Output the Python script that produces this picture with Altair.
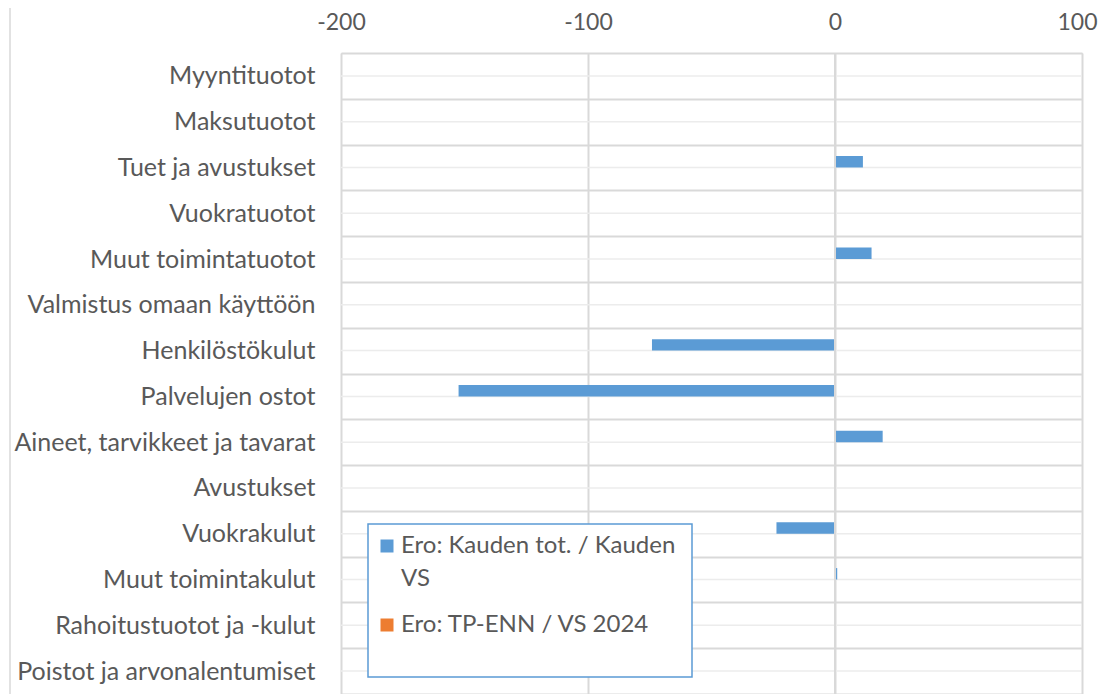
import altair as alt
import pandas as pd

categories = ["Myyntituotot", "Maksutuotot", "Tuet ja avustukset", "Vuokratuotot",
              "Muut toimintatuotot", "Valmistus omaan käyttöön", "Henkilöstökulut",
              "Palvelujen ostot", "Aineet, tarvikkeet ja tavarat", "Avustukset",
              "Vuokrakulut", "Muut toimintakulut", "Rahoitustuotot ja -kulut",
              "Poistot ja arvonalentumiset"]
series = ["Ero: Kauden tot. / Kauden VS", "Ero: TP-ENN / VS 2024"]
blue_values = [0, 0, 11.3, 0, 14.8, 0, -74.1, -152.4, 19.3, 0, -23.7, 0.9, 0, 0]
orange_values = [0, 0, 0, 0, 0, 0, 0, 0, 0, 0, 0, 0, 0, 0]
x_ticks = [-200, -100, 0, 100]
colors = ["#5b9bd5", "#ed7d31"]

rows = []
for c, b, o in zip(categories, blue_values, orange_values):
    rows.append({"cat": c, "series": series[0], "value": b})
    rows.append({"cat": c, "series": series[1], "value": o})
df = pd.DataFrame(rows)
cat_df = pd.DataFrame({"cat": categories})
zero_df = pd.DataFrame({"x": [0]})

W, H = 741, 641
FONT = "Lato"
GRAY = "#595959"

y_enc = alt.Y("cat:N", sort=categories,
              scale=alt.Scale(domain=categories, paddingInner=0, paddingOuter=0),
              axis=alt.Axis(title=None, labelFontSize=25, labelColor=GRAY, labelFont=FONT,
                            ticks=False, domain=False, grid=True, gridColor="#d9d9d9",
                            gridWidth=2, tickBand="extent", labelPadding=26, labelLimit=400))

x_scale = alt.Scale(domain=[-200, 100], nice=False, zero=False)

center_lines = alt.Chart(cat_df).mark_rule(color="#ececec", strokeWidth=1.5).encode(
    y=alt.Y("cat:N", sort=categories, scale=alt.Scale(domain=categories, paddingInner=0, paddingOuter=0))
)

legend_box = alt.Chart(zero_df).mark_rect(fill="white", stroke="#5b9bd5", strokeWidth=1.5).encode(
    x=alt.value(27), x2=alt.value(351), y=alt.value(471), y2=alt.value(624)
)

bars = alt.Chart(df).mark_bar().encode(
    x=alt.X("value:Q", scale=x_scale,
            axis=alt.Axis(orient="top", values=x_ticks, title=None, labelFontSize=23,
                          labelColor=GRAY, labelFont=FONT, ticks=False, domain=False,
                          grid=True, gridColor="#d9d9d9", gridWidth=2, labelPadding=19,
                          labelFlush=False,
                          labelOffset={"condition": {"test": "datum.value == 100", "value": -5}, "value": 0},
                          labelExpr="toString(datum.value)")),
    y=y_enc,
    yOffset=alt.YOffset("series:N", sort=series,
                        scale=alt.Scale(domain=series, paddingInner=0, paddingOuter=1)),
    color=alt.Color("series:N", sort=series,
                    scale=alt.Scale(domain=series, range=colors),
                    legend=alt.Legend(title=None, orient="none", legendX=27, legendY=474,
                                      direction="vertical", symbolType="square",
                                      symbolSize=169, symbolStrokeWidth=0,
                                      labelFontSize=24, labelFont=FONT, labelColor=GRAY,
                                      labelLimit=400, symbolOffset=0, labelOffset=2,
                                      padding=7, rowPadding=22,
                                      labelExpr="datum.label == 'Ero: Kauden tot. / Kauden VS' ? ['Ero: Kauden tot. / Kauden', 'VS'] : datum.label")),
)

zero_line = alt.Chart(zero_df).mark_rule(color="#d9d9d9", strokeWidth=2).encode(
    x=alt.X("x:Q", scale=x_scale)
)

border = alt.Chart(zero_df).mark_rule(color="#d9d9d9", strokeWidth=1.5).encode(
    x=alt.value(-331), y=alt.value(-53), y2=alt.value(H)
)

chart = alt.layer(center_lines, bars, zero_line, legend_box, border).properties(
    width=W, height=H,
    autosize=alt.AutoSizeParams(type="none"),
    padding={"left": 333, "top": 45, "right": 16, "bottom": 0},
).configure_view(stroke=None).configure(
    font=FONT, style={"guide-label": {"lineHeight": 33}}
)

chart.save("out.html", embed_options={"renderer": "svg", "actions": False})
